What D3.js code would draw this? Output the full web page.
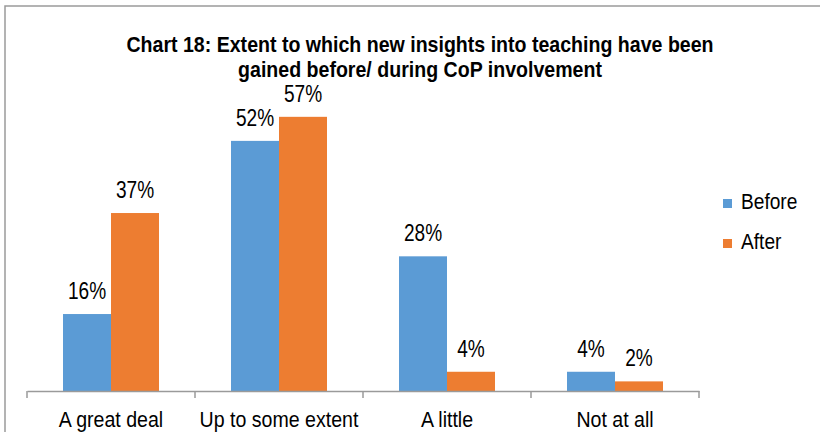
<!DOCTYPE html>
<html>
<head>
<meta charset="utf-8">
<script src="https://cdn.jsdelivr.net/npm/d3@7"></script>
<style>
  body { margin: 0; background: #fff; }
  text { font-family: "Liberation Sans Narrow", "Arial Narrow", "Liberation Sans", Arial, sans-serif; fill: #000; }
</style>
</head>
<body>
<svg id="chart" width="820" height="432"></svg>
<script>
const categories = ['A great deal', 'Up to some extent', 'A little', 'Not at all']
const series = ['Before', 'After']
const before = [16, 52, 28, 4]
const after = [37, 57, 4, 2]
const colors = ['#5B9BD5', '#ED7D31']
const titleLines = ['Chart 18: Extent to which new insights into teaching have been',
                    'gained before/ during CoP involvement']

// no narrow font installed, so squeeze the regular one
const squeeze = 0.87

let svg = d3.select('#chart'),
    baseY = 391

let data = categories.map(function (c, i) {
    return { cat: c, values: [before[i], after[i]] }
})

// chart frame (only top and left edges are visible)
svg.append('path')
    .attr('d', 'M5,432 V6 H820')
    .attr('fill', 'none')
    .attr('stroke', '#9a9a9a')
    .attr('stroke-width', 1.5)

// title
svg.selectAll('.title')
    .data(titleLines)
    .enter().append('text')
    .attr('class', 'title')
    .attr('text-anchor', 'middle')
    .style('font-weight', 'bold')
    .style('font-size', '22px')
    .attr('transform', function (d, i) { return 'translate(420,' + (52 + i * 25) + ') scale(0.89,1)' })
    .text(function (d) { return d })

let x0 = d3.scaleBand()
    .domain(categories)
    .range([27, 699])

let x1 = d3.scaleBand()
    .domain(series)
    .range([0, x0.bandwidth()])
    .paddingOuter(0.75)

let y = d3.scaleLinear()
    .domain([0, 60])
    .range([baseY, baseY - 60 * 4.81])

// bars
let group = svg.selectAll('.group')
    .data(data)
    .enter().append('g')
    .attr('class', 'group')
    .attr('transform', function (d) { return 'translate(' + x0(d.cat) + ',0)' })

group.selectAll('rect')
    .data(function (d) { return d.values.map(function (v, i) { return { key: series[i], value: v, idx: i } }) })
    .enter().append('rect')
    .attr('x', function (d) { return x1(d.key) })
    .attr('y', function (d) { return y(d.value) })
    .attr('width', x1.bandwidth())
    .attr('height', function (d) { return baseY - y(d.value) })
    .attr('fill', function (d) { return colors[d.idx] })

// value labels
group.selectAll('.val')
    .data(function (d) { return d.values.map(function (v, i) { return { key: series[i], value: v } }) })
    .enter().append('text')
    .attr('class', 'val')
    .attr('text-anchor', 'middle')
    .style('font-size', '23px')
    .attr('transform', function (d) {
        return 'translate(' + (x1(d.key) + x1.bandwidth() / 2) + ',' + (y(d.value) - 15) + ') scale(0.83,1)'
    })
    .text(function (d) { return d.value + '%' })

// category axis
let axis = svg.append('g')
    .attr('transform', 'translate(0,' + baseY + ')')
    .call(d3.axisBottom(x0).tickSize(0).tickPadding(20))

axis.select('.domain').attr('stroke', '#9a9a9a').attr('stroke-width', 1.5)
axis.selectAll('text')
    .style('font-size', '22px')
    .style('font-family', '"Liberation Sans Narrow", "Arial Narrow", "Liberation Sans", Arial, sans-serif')
    .attr('fill', '#000')
    .attr('transform', 'scale(0.89,1)')

// tick marks between categories
let edges = categories.map(function (c) { return x0(c) }).concat([x0.range()[1]])
axis.selectAll('.edge')
    .data(edges)
    .enter().append('line')
    .attr('class', 'edge')
    .attr('x1', function (d) { return d })
    .attr('x2', function (d) { return d })
    .attr('y1', 0)
    .attr('y2', 7)
    .attr('stroke', '#9a9a9a')
    .attr('stroke-width', 1.5)

// legend
let legend = svg.selectAll('.legend')
    .data(series)
    .enter().append('g')
    .attr('class', 'legend')
    .attr('transform', function (d, i) { return 'translate(723,' + (199 + i * 40) + ')' })

legend.append('rect')
    .attr('width', 9)
    .attr('height', 9)
    .attr('fill', function (d, i) { return colors[i] })

legend.append('text')
    .attr('transform', 'translate(18,10) scale(' + squeeze + ',1)')
    .style('font-size', '22px')
    .text(function (d) { return d })
</script>
</body>
</html>
